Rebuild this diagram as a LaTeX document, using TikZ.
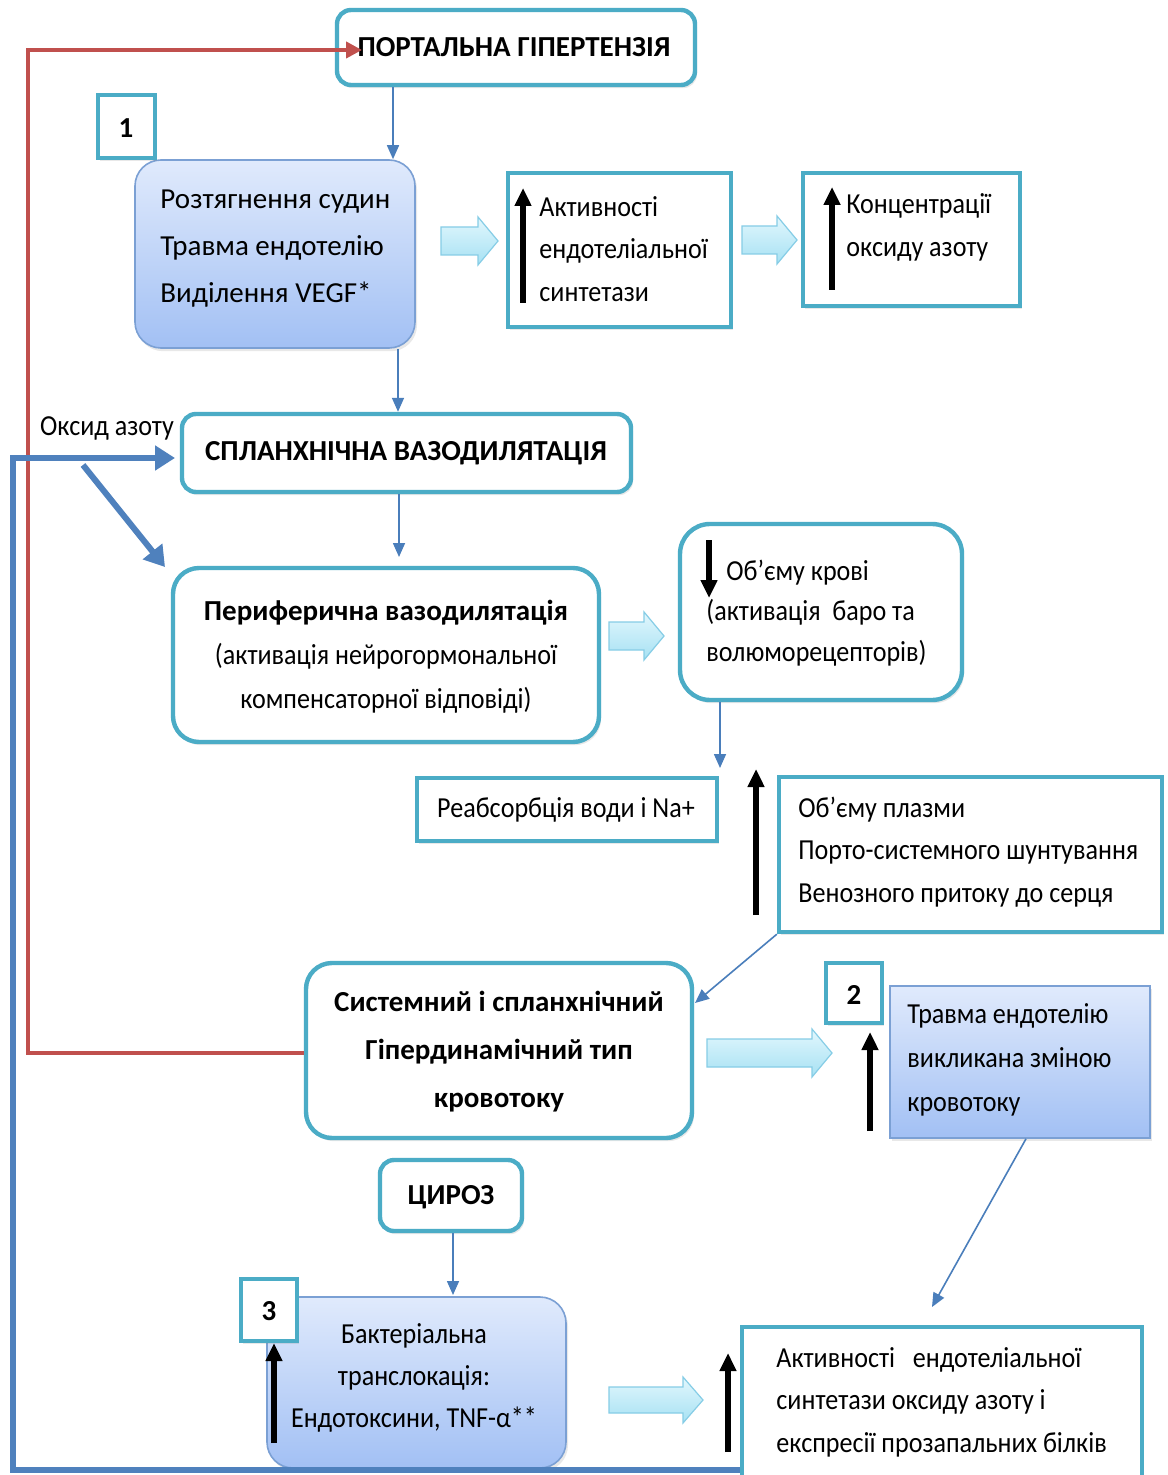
\documentclass[tikz,border=0pt]{standalone}
\usepackage{fontspec}
\setmainfont{Carlito}
\newfontfamily\condf{Carlito}[FakeStretch=0.9]
\usetikzlibrary{arrows.meta,fit,shadows}
\definecolor{tealc}{HTML}{4BACC6}
\definecolor{arrblue}{HTML}{4A7EBB}
\definecolor{thickbl}{HTML}{4F81BD}
\definecolor{redc}{HTML}{C0504D}
\definecolor{blueA}{HTML}{E0EAFC}
\definecolor{blueB}{HTML}{A2C0F4}
\definecolor{bluebord}{HTML}{7BA0D4}
\definecolor{cyanA}{HTML}{E2F7FD}
\definecolor{cyanB}{HTML}{A6E1F3}
\definecolor{cyanline}{HTML}{86CDE6}
\tikzset{
  shad/.style={drop shadow={opacity=0.18,shadow xshift=1pt,shadow yshift=-1.6pt}},
  tealbox/.style={draw=tealc,line width=2.2pt,fill=white,inner sep=0pt,shad},
  rbox/.style={tealbox,rounded corners=7pt},
  blubox/.style={draw=bluebord,line width=0.8pt,top color=blueA,bottom color=blueB,inner sep=0pt,shad},
  thinarr/.style={draw=arrblue,line width=0.8pt,-{Triangle[width=6pt,length=7pt]}},
  thickarr/.style={draw=thickbl,line width=3pt,-{Triangle[width=12pt,length=10pt]}},
  redarr/.style={draw=redc,line width=2.2pt,-{Triangle[width=8pt,length=8pt]}},
  blackup/.style={draw=black,line width=2.6pt,-{Triangle[width=8pt,length=9pt]}},
  blockarr/.style={draw=cyanline,line width=0.6pt,top color=cyanA,bottom color=cyanB},
  txt/.style={inner sep=0pt,font=\condf\fontsize{14.5}{21.25}\selectfont},
  btxt/.style={inner sep=0pt,font=\fontsize{14.5}{21.25}\selectfont\bfseries},
}
\newcommand{\blkarrow}[5]{% x1, x2, yc, H, h
  \path[blockarr] (#1,{#3-#5}) -- ({#2-20},{#3-#5}) -- ({#2-20},{#3-#4}) -- (#2,#3)
    -- ({#2-20},{#3+#4}) -- ({#2-20},{#3+#5}) -- (#1,{#3+#5}) -- cycle;}
\begin{document}
\begin{tikzpicture}[x=0.5pt,y=-0.5pt]
\useasboundingbox (0,0) rectangle (1167,1475);
\fill[white] (0,0) rectangle (1167,1475);

% --- boxes ---
\node[rbox,fit={(337,10)(695,85)}] (port) {};
\node[btxt] at (514,47) (portt) {ПОРТАЛЬНА ГІПЕРТЕНЗІЯ};

\node[blubox,rounded corners=13pt,fit={(135,160)(415,348)}] (b1) {};
\node[inner sep=0pt,anchor=west,align=left,font=\fontsize{14.5}{23.5}\selectfont] at (160,249) (b1t)
  {Розтягнення судин\\Травма ендотелію\\Виділення VEGF*};
\node[tealbox,fit={(98,95)(155,158)}] (n1) {};
\node[btxt] at (126,128) (n1t) {1};

\blkarrow{441}{498}{241}{24}{14}
\node[tealbox,fit={(508,173)(731,327)}] (akt) {};
\draw[blackup] (523,303) -- (523,188);
\node[txt,anchor=west,align=left] at (539,249) (aktt)
  {Активності\\ендотеліальної\\синтетази};

\blkarrow{742}{797}{240}{24}{14}
\node[tealbox,fit={(803,173)(1020,306)}] (konc) {};
\draw[blackup] (832,290) -- (832,187);
\node[txt,anchor=west,align=left] at (846,227.5) (konct)
  {Концентрації\\оксиду азоту};

\node[txt] at (107,428) (oks) {Оксид азоту};
\node[rbox,fit={(182,414)(631,492)}] (spl) {};
\node[btxt] at (406,453) (splt) {СПЛАНХНІЧНА ВАЗОДИЛЯТАЦІЯ};

\node[rbox,rounded corners=13pt,fit={(173,568)(599,742)}] (per) {};
\node[txt,align=center,font=\condf\fontsize{14.5}{22}\selectfont] at (386,657) (pert)
  {{\normalfont\bfseries Периферична вазодилятація}\\(активація нейрогормональної\\компенсаторної відповіді)};
\blkarrow{609}{664}{636}{24}{14}

\node[rbox,rounded corners=15pt,fit={(680,524)(962,700)}] (obj) {};
\draw[blackup] (709,540) -- (709,598);
\node[txt,anchor=west,align=left,font=\condf\fontsize{14.5}{20.25}\selectfont] at (706,613) (objt)
  {\hspace*{10pt}Об’єму крові\\(активація\ \ баро та\\волюморецепторів)};

\node[tealbox,fit={(417,778)(717,841)}] (reab) {};
\node[txt] at (566,810) (reabt) {Реабсорбція води і Na+};
\draw[blackup] (756,915) -- (756,769);
\node[tealbox,fit={(779,777)(1162,932)}] (pl) {};
\node[txt,anchor=west,align=left] at (798,852) (plt)
  {Об’єму плазми\\Порто-системного шунтування\\Венозного притоку до серця};

\node[rbox,rounded corners=13pt,fit={(306,963)(692,1138)}] (sys) {};
\node[btxt,align=center,font=\fontsize{14.5}{24}\selectfont\bfseries] at (499,1052) (syst)
  {Системний і спланхнічний\\Гіпердинамічний тип\\кровотоку};
\blkarrow{707}{832}{1053}{24}{14}
\draw[blackup] (870,1131) -- (870,1032);
\node[blubox,fit={(890,986)(1150,1138)}] (tr2) {};
\node[txt,anchor=west,align=left,font=\condf\fontsize{14.5}{22}\selectfont] at (907,1060) (tr2t)
  {Травма ендотелію\\викликана зміною\\кровотоку};
\node[tealbox,fit={(826,963)(882,1023)}] (n2) {};
\node[btxt] at (854,995) (n2t) {2};

\node[rbox,fit={(380,1160)(522,1231)}] (cir) {};
\node[btxt] at (451,1197) (cirt) {ЦИРОЗ};

\node[blubox,rounded corners=13pt,fit={(267,1297)(566,1468)}] (bac) {};
\node[txt,align=center,font=\condf\fontsize{14.5}{21}\selectfont] at (414,1378) (bact)
  {Бактеріальна\\транслокація:\\Ендотоксини, TNF-α**};
\node[tealbox,fit={(241,1279)(297,1341)}] (n3) {};
\node[btxt] at (269,1311) (n3t) {3};
\draw[blackup] (274,1443) -- (274,1343);

\blkarrow{609}{703}{1400}{23}{13}
\draw[blackup] (728,1452) -- (728,1353);
\node[tealbox,fit={(742,1327)(1142,1495)}] (bot) {};
\node[txt,anchor=west,align=left] at (776,1402) (bott)
  {Активності\ \ \ ендотеліальної\\синтетази оксиду азоту і\\експресії прозапальних білків};

% --- thin connectors ---
\coordinate (cA) at (393,0);
\draw[thinarr] (port.south -| cA) -- (b1.north -| cA);
\coordinate (cB) at (398,0);
\draw[thinarr] (b1.south -| cB) -- (spl.north -| cB);
\coordinate (cC) at (399,557);
\draw[thinarr] (spl.south -| cC) -- (cC);
\coordinate (cD) at (720,768);
\draw[thinarr] (obj.south -| cD) -- (cD);
\coordinate (cE) at (695,1003);
\draw[thinarr] (pl.south west) -- (cE);
\coordinate (cF) at (1026,0);
\coordinate (cG) at (932,1307);
\draw[thinarr] (tr2.south -| cF) -- (cG);
\coordinate (cH) at (453,1295);
\draw[thinarr] (cir.south -| cH) -- (cH);

% --- red feedback ---
\coordinate (r1) at (28,1053);
\coordinate (r2) at (28,50);
\coordinate (r3) at (362,50);
\draw[redarr] (sys.west |- r1) -- (r1) -- (r2) -- (r3);

% --- blue NO line ---
\coordinate (u1) at (13,1470);
\coordinate (u2) at (13,458);
\coordinate (u3) at (175,458);
\draw[thickarr] (bot.west |- u1) -- (u1) -- (u2) -- (u3);
\coordinate (d1) at (83,465);
\coordinate (d2) at (165,567);
\draw[thickarr] (d1) -- (d2);
\end{tikzpicture}
\end{document}
